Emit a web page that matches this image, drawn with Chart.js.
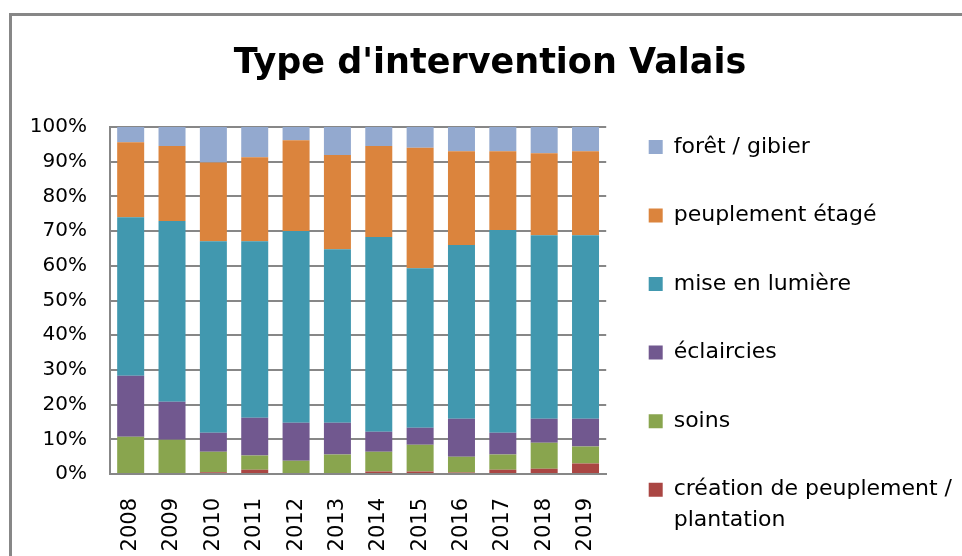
<!DOCTYPE html>
<html>
<head>
<meta charset="utf-8">
<script src="https://cdn.jsdelivr.net/npm/chart.js@4/dist/chart.umd.min.js"></script>
<style>
  html, body { margin: 0; padding: 0; background: #fff; }
  #wrap { position: relative; width: 962px; height: 556px; overflow: hidden; }
  #frame { position: absolute; left: 9px; top: 13px; width: 1000px; height: 600px; border: 3px solid #878787; box-sizing: border-box; }
  #chart-valais { position: absolute; left: 0; top: 0; }
</style>
</head>
<body>
<div id="wrap">
  <div id="frame"></div>
  <canvas id="chart-valais" width="962" height="556"></canvas>
</div>
<script>
const years = ["2008", "2009", "2010", "2011", "2012", "2013", "2014", "2015", "2016", "2017", "2018", "2019"]

// parts in %, from bottom to top of each bar
const creation        = [0,    0,    0.5,  1.2,  0,    0,    0.7,  0.7,  0.4,  1.2,  1.5,  3.0]
const soins           = [10.7, 9.9,  5.9,  4.1,  3.8,  5.6,  5.7,  7.7,  4.6,  4.4,  7.5,  4.9]
const eclaircies      = [17.6, 10.9, 5.5,  10.9, 11.0, 9.2,  5.8,  4.9,  10.9, 6.3,  6.9,  8.0]
const miseEnLumiere   = [45.7, 52.1, 55.2, 50.9, 55.2, 50.0, 56.1, 46.0, 50.1, 58.4, 52.9, 52.9]
const peuplementEtage = [21.6, 21.6, 22.7, 24.2, 26.2, 27.1, 26.2, 34.7, 27.0, 22.7, 23.6, 24.2]
const foretGibier     = [4.4,  5.5,  10.2, 8.7,  3.8,  8.1,  5.5,  6.0,  7.0,  7.0,  7.6,  7.0]

const seriesNames = ["création de peuplement / plantation", "soins", "éclaircies", "mise en lumière", "peuplement étagé", "forêt / gibier"]
const seriesColors = ["#AA4643", "#89A54E", "#71588F", "#4198AF", "#DB843D", "#93A9CF"]
const seriesValues = [creation, soins, eclaircies, miseEnLumiere, peuplementEtage, foretGibier]

const yTicks = [0, 10, 20, 30, 40, 50, 60, 70, 80, 90, 100]

const axisGrey = "#878787"
const font = "'DejaVu Sans', sans-serif"

// legend text: long names go on two lines, short ones get an empty second line
function legendLines(name) {
  if (name.length <= 24) return [name, ""]
  const cut = name.lastIndexOf(" ", 24)
  return [name.slice(0, cut), name.slice(cut + 1)]
}

new Chart(document.getElementById("chart-valais"), {
  type: "bar",
  data: {
    labels: years,
    datasets: seriesNames.map((name, i) => ({
      label: name,
      data: seriesValues[i],
      backgroundColor: seriesColors[i],
      borderWidth: 0,
      categoryPercentage: 0.653,
      barPercentage: 1
    }))
  },
  options: {
    responsive: false,
    animation: false,
    layout: { padding: { left: 18, right: 0, top: 0, bottom: 0 } },
    plugins: {
      tooltip: { enabled: false },
      title: {
        display: true,
        text: "Type d'intervention Valais",
        color: "#000",
        font: { family: font, size: 35, weight: "bold" },
        padding: { top: 42.5, bottom: 42.5 }
      },
      legend: {
        position: "right",
        align: "start",
        reverse: true,
        maxWidth: 420,
        title: { display: true, text: " ", font: { size: 10 }, padding: { top: 117.5, bottom: 0 } },
        labels: {
          boxWidth: 14,
          boxHeight: 14,
          padding: 6.5,
          color: "#000",
          font: { family: font, size: 22, lineHeight: 1.41 },
          generateLabels(chart) {
            const items = Chart.defaults.plugins.legend.labels.generateLabels(chart)
            items.forEach(it => { it.text = legendLines(seriesNames[it.datasetIndex]) })
            return items
          }
        }
      }
    },
    scales: {
      x: {
        stacked: true,
        grid: { display: false },
        border: { display: true, color: axisGrey, width: 2 },
        ticks: {
          autoSkip: false,
          minRotation: 90,
          maxRotation: 90,
          padding: 16,
          color: "#000",
          font: { family: font, size: 21 }
        },
        afterFit(scale) { scale.height = 82 }
      },
      y: {
        stacked: true,
        min: 0,
        max: 100,
        grid: { color: axisGrey, lineWidth: 2, drawTicks: false },
        border: { display: true, color: axisGrey, width: 2 },
        afterBuildTicks(scale) { scale.ticks = yTicks.map(v => ({ value: v })) },
        ticks: {
          padding: 23,
          color: "#000",
          font: { family: font, size: 20 },
          callback: v => v + "%"
        },
        afterFit(scale) { scale.width = 92 }
      },
      yGap: {
        type: "linear",
        position: "right",
        display: true,
        grid: { display: false, drawTicks: false },
        border: { display: false },
        ticks: { display: false },
        afterFit(scale) { scale.width = 36 }
      }
    }
  }
})
</script>
</body>
</html>
